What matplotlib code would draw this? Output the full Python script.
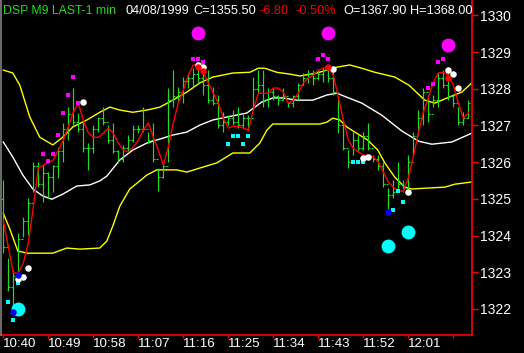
import matplotlib
matplotlib.use("Agg")
import matplotlib.pyplot as plt
import numpy as np

# 1-minute bars, minute index 0 = 10:40
bar_high = [1325.51, 1323.39, 1323.06, 1324.07, 1324.50, 1325.02, 1326.00, 1326.00, 1325.92, 1325.73,
            1325.92, 1326.41, 1327.07, 1327.50, 1328.02, 1327.34, 1327.15, 1326.52, 1327.01, 1327.23,
            1327.50, 1327.01, 1327.07, 1326.33, 1326.47, 1326.74, 1327.01, 1327.01, 1327.50, 1326.82,
            1327.07, 1325.84, 1326.00, 1328.02, 1328.51, 1328.05, 1328.32, 1328.43, 1328.56, 1328.73,
            1328.51, 1328.51, 1328.05, 1327.83, 1327.36, 1327.28, 1327.42, 1327.50, 1327.34, 1327.28,
            1328.32, 1328.51, 1328.51, 1328.02, 1328.02, 1327.83, 1328.02, 1327.64, 1327.83, 1328.16,
            1328.43, 1328.51, 1328.51, 1328.51, 1328.59, 1328.59, 1328.45, 1327.75, 1327.15, 1326.33,
            1326.82, 1326.74, 1326.82, 1327.07, 1326.19, 1326.19, 1326.00, 1325.29, 1325.51, 1326.00,
            1325.51, 1326.19, 1326.82, 1327.42, 1328.02, 1327.83, 1327.83, 1328.43, 1328.51, 1328.43,
            1327.83, 1327.50, 1327.36, 1327.69]
bar_low = [1323.52, 1322.49, 1321.89, 1322.91, 1323.96, 1324.01, 1325.18, 1325.32, 1324.91, 1325.02,
           1325.18, 1325.57, 1326.00, 1326.60, 1327.01, 1326.82, 1326.28, 1325.79, 1326.25, 1326.82,
           1327.01, 1326.52, 1326.25, 1326.00, 1326.00, 1326.28, 1326.55, 1326.79, 1326.82, 1326.52,
           1326.00, 1325.21, 1325.57, 1326.00, 1327.50, 1327.64, 1327.61, 1328.02, 1328.05, 1328.16,
           1327.83, 1327.61, 1327.56, 1326.93, 1326.82, 1327.01, 1327.01, 1326.93, 1326.93, 1326.87,
           1327.50, 1327.88, 1327.50, 1327.50, 1327.69, 1327.56, 1327.69, 1327.50, 1327.50, 1327.69,
           1328.10, 1328.16, 1328.10, 1328.24, 1328.18, 1328.18, 1327.83, 1326.79, 1326.33, 1325.84,
           1326.19, 1326.28, 1326.33, 1326.33, 1326.00, 1325.79, 1325.32, 1324.69, 1325.02, 1325.24,
           1325.18, 1325.18, 1326.14, 1326.74, 1327.01, 1327.09, 1327.50, 1327.50, 1328.02, 1327.69,
           1327.50, 1327.01, 1327.01, 1327.20]
bar_close = [1323.70, 1322.60, 1322.90, 1323.90, 1324.40, 1324.90, 1325.90, 1325.40, 1325.70, 1325.60,
             1325.90, 1326.30, 1326.90, 1327.30, 1327.10, 1326.90, 1326.40, 1326.40, 1326.90, 1327.20,
             1327.10, 1326.60, 1326.30, 1326.10, 1326.40, 1326.60, 1326.90, 1326.90, 1326.90, 1326.60,
             1326.10, 1325.60, 1325.90, 1327.70, 1327.80, 1327.90, 1328.20, 1328.30, 1328.40, 1328.30,
             1328.10, 1327.70, 1327.60, 1327.00, 1327.10, 1327.20, 1327.10, 1327.00, 1327.20, 1327.20,
             1328.00, 1328.10, 1327.70, 1327.90, 1327.80, 1327.70, 1327.80, 1327.60, 1327.80, 1328.10,
             1328.30, 1328.40, 1328.30, 1328.40, 1328.50, 1328.30, 1327.90, 1327.00, 1326.40, 1326.00,
             1326.60, 1326.40, 1326.70, 1326.40, 1326.10, 1325.90, 1325.40, 1325.10, 1325.20, 1325.40,
             1325.30, 1326.00, 1326.70, 1327.20, 1327.90, 1327.30, 1327.70, 1328.30, 1328.10, 1327.80,
             1327.60, 1327.10, 1327.20, 1327.60]
first_open = 1325.00

# red average line, one value per bar
avg_line = [1324.42, 1323.69, 1322.98, 1322.98, 1323.25, 1323.80, 1324.78, 1325.84, 1325.92, 1325.98,
            1326.06, 1326.33, 1326.60, 1326.96, 1327.36, 1327.61, 1327.15, 1326.79, 1326.68, 1326.68,
            1326.79, 1326.93, 1326.79, 1326.52, 1326.33, 1326.28, 1326.41, 1326.60, 1326.87, 1327.07,
            1326.68, 1326.33, 1325.92, 1326.41, 1327.07, 1327.61, 1327.96, 1328.37, 1328.65, 1328.65,
            1328.45, 1328.16, 1327.88, 1327.61, 1327.20, 1326.93, 1326.98, 1326.98, 1326.93, 1326.87,
            1327.42, 1327.88, 1327.88, 1327.88, 1328.02, 1328.02, 1327.91, 1327.61, 1327.69, 1327.88,
            1328.16, 1328.29, 1328.37, 1328.51, 1328.56, 1328.59, 1328.37, 1327.77, 1327.15, 1326.60,
            1326.38, 1326.28, 1326.19, 1326.19, 1326.14, 1326.00, 1325.73, 1325.46, 1325.32, 1325.21,
            1325.21, 1325.57, 1326.14, 1326.79, 1327.36, 1327.75, 1328.18, 1328.43, 1328.45, 1328.37,
            1328.10, 1327.61, 1327.20, 1327.34]

# bands, sampled along the time axis (minutes from 10:40)
upper_t = [0, 1.9, 3.3, 5.3, 7.3, 9.9, 11.9, 13.9, 16.7, 19.3, 21.3, 23.3, 25.9, 28.7, 31.3, 33.9, 36.7,
           39.3, 41.9, 45.9, 49.3, 51.0, 52.3, 54.7, 57.3, 59.3, 62.7, 64.7, 66.7, 69.3, 71.7, 74.3,
           78.3, 81.1, 84.3, 86.3, 89.1, 91.7, 93.7]
upper_v = [1328.51, 1328.43, 1328.10, 1327.23, 1326.68, 1326.47, 1326.68, 1326.96, 1327.15, 1327.36,
           1327.50, 1327.42, 1327.36, 1327.42, 1327.50, 1327.69, 1327.91, 1328.16, 1328.32, 1328.43,
           1328.45, 1328.56, 1328.56, 1328.45, 1328.40, 1328.35, 1328.43, 1328.51, 1328.59, 1328.65,
           1328.56, 1328.45, 1328.32, 1328.10, 1327.69, 1327.61, 1327.77, 1327.91, 1328.16]
lower_t = [0, 1.3, 2.9, 4.7, 7.3, 9.9, 12.7, 15.3, 19.3, 20.7, 21.9, 23.3, 25.3, 27.3, 28.7, 30.7, 34.7,
           36.7, 39.3, 42.7, 45.9, 49.3, 51.3, 52.7, 53.9, 58.7, 63.3, 64.7, 65.9, 67.3, 68.7, 70.3,
           72.9, 74.9, 76.3, 78.3, 80.3, 81.7, 84.3, 88.3, 90.3, 93.7]
lower_v = [1324.61, 1324.18, 1323.58, 1323.52, 1323.52, 1323.52, 1323.66, 1323.63, 1323.66, 1323.85,
           1324.26, 1324.80, 1325.27, 1325.49, 1325.65, 1325.79, 1325.79, 1325.73, 1325.84, 1325.98,
           1326.25, 1326.25, 1326.52, 1326.87, 1327.04, 1327.04, 1327.04, 1327.09, 1327.20, 1327.15,
           1326.96, 1326.82, 1326.60, 1326.33, 1325.98, 1325.59, 1325.32, 1325.27, 1325.29, 1325.32,
           1325.40, 1325.46]
mid_t = [0, 1.9, 3.9, 5.9, 7.9, 9.7, 11.9, 14.7, 17.3, 19.3, 20.7, 23.3, 25.9, 28.7, 31.3, 33.9, 36.7,
         39.3, 41.9, 44.7, 48.7, 50.3, 51.7, 53.9, 55.9, 58.7, 61.9, 64.7, 66.7, 68.7, 71.7, 75.7,
         79.7, 83.1, 85.7, 89.7, 93.7]
mid_v = [1326.55, 1326.14, 1325.65, 1325.27, 1325.08, 1324.99, 1325.13, 1325.35, 1325.38, 1325.49,
         1325.62, 1326.06, 1326.33, 1326.52, 1326.63, 1326.74, 1326.82, 1327.01, 1327.15, 1327.23,
         1327.34, 1327.50, 1327.64, 1327.75, 1327.75, 1327.69, 1327.69, 1327.83, 1327.88, 1327.77,
         1327.61, 1327.28, 1326.85, 1326.57, 1326.49, 1326.55, 1326.79]

# indicator markers: (bar index, price)
magenta_sq_i = [8, 9, 10, 11, 12, 13, 14, 15, 38, 39, 40, 63, 64, 65, 85, 86, 87, 88, 89]
magenta_sq_p = [1326.22, 1326.03, 1326.22, 1326.74, 1327.34, 1327.83, 1328.32, 1327.61, 1328.81, 1328.81,
                1328.73, 1328.81, 1328.92, 1328.81, 1328.02, 1328.13, 1328.73, 1328.81, 1328.51]
cyan_sq_i = [1, 2, 3, 45, 46, 47, 48, 49, 70, 71, 72, 78, 79, 80]
cyan_sq_p = [1322.19, 1321.70, 1322.71, 1326.49, 1326.71, 1326.71, 1326.49, 1326.71, 1326.00, 1326.00,
             1326.00, 1324.69, 1325.21, 1324.91]
big_magenta_i = [39, 65, 89]
big_magenta_p = [1329.52, 1329.52, 1329.19]
big_cyan_i = [3, 77, 81]
big_cyan_p = [1321.99, 1323.71, 1324.10]
white_dot_i = [3, 4, 5, 16, 39, 40, 66, 72, 73, 81, 89, 90, 91]
white_dot_p = [1322.81, 1322.87, 1323.11, 1327.64, 1328.65, 1328.59, 1328.54, 1326.11, 1326.14, 1325.18,
               1328.51, 1328.40, 1328.02]
red_dot_i = [39, 40, 65, 89]
red_dot_p = [1328.59, 1328.48, 1328.59, 1328.29]
blue_dot_i = [2, 3, 77]
blue_dot_p = [1321.92, 1322.92, 1324.64]

tick_pos = [0, 9, 18, 27, 36, 45, 54, 63, 72, 81, 90]
tick_lbl = ["10:40", "10:49", "10:58", "11:07", "11:16", "11:25", "11:34", "11:43", "11:52", "12:01", ""]
price_ticks = [1322, 1323, 1324, 1325, 1326, 1327, 1328, 1329, 1330]

plt.rcParams['font.family'] = ['Liberation Sans', 'DejaVu Sans']

fig = plt.figure(figsize=(5.24, 3.53), dpi=100, facecolor='black')
ax = fig.add_axes([0.0, 0.051, 0.9008, 0.949], facecolor='black')

green = '#1ee01e'
n = len(bar_high)
idx = np.arange(n)
opens = [first_open] + bar_close[:-1]

ax.plot(upper_t, upper_v, color='#ffff00', lw=1)
ax.plot(lower_t, lower_v, color='#ffff00', lw=1)
ax.plot(mid_t, mid_v, color='white', lw=1)

ax.vlines(idx, bar_low, bar_high, color=green, lw=0.85)
ax.hlines(opens, idx - 0.4, idx, color=green, lw=0.85)
ax.hlines(bar_close, idx, idx + 0.4, color=green, lw=0.85)

ax.plot(idx, avg_line, color='#ff0000', lw=1.0)

ax.scatter(magenta_sq_i, magenta_sq_p, marker='s', s=10, color='#ff00ff', zorder=4, linewidths=0)
ax.scatter(cyan_sq_i, cyan_sq_p, marker='s', s=10, color='#00ffff', zorder=4, linewidths=0)
ax.scatter(big_magenta_i, big_magenta_p, s=100, color='#ff00ff', zorder=4, linewidths=0)
ax.scatter(big_cyan_i, big_cyan_p, s=100, color='#00ffff', zorder=4, linewidths=0)
ax.scatter(white_dot_i, white_dot_p, s=22, color='white', zorder=5, linewidths=0)
ax.scatter(red_dot_i, red_dot_p, s=22, color='#ff0000', zorder=6, linewidths=0)
ax.scatter(blue_dot_i, blue_dot_p, s=22, color='#0000ff', zorder=6, linewidths=0)

ax.set_xlim(-0.66, 93.74)
ax.set_ylim(1321.29, 1330.42)

for side in ['top', 'left']:
    ax.spines[side].set_visible(False)
ax.spines['right'].set_color('#ff0000')
ax.spines['bottom'].set_color('#ff0000')
ax.spines['right'].set_linewidth(1.2)
ax.spines['bottom'].set_linewidth(1.2)

ax.yaxis.tick_right()
ax.set_yticks(price_ticks)
ax.set_yticklabels([str(p) for p in price_ticks])
ax.tick_params(axis='y', colors='#ff0000', length=4, width=1, labelcolor='white', labelsize=10, pad=1.5)
ax.set_xticks(tick_pos)
ax.set_xticklabels(tick_lbl, ha='left')
ax.tick_params(axis='x', colors='#ff0000', length=2, width=1, labelcolor='white', labelsize=9.6, pad=0.5)

fig.add_artist(plt.Line2D([0.001, 0.001], [0.051, 1.0], color='#808080', lw=1.2))

hy = 1 - 10.5 / 353
fig.text(3 / 524, hy, "DSP M9 LAST-1 min", color='#1ee01e', fontsize=8.8, va='center')
fig.text(125 / 524, hy, "04/08/1999", color='white', fontsize=9.2, va='center')
fig.text(193 / 524, hy, "C=1355.50", color='white', fontsize=9.2, va='center')
fig.text(259 / 524, hy, "-6.80", color='#ff0000', fontsize=9.2, va='center')
fig.text(295 / 524, hy, "-0.50%", color='#ff0000', fontsize=9.2, va='center')
fig.text(343 / 524, hy, "O=1367.90", color='white', fontsize=9.2, va='center')
fig.text(410 / 524, hy, "H=1368.00", color='white', fontsize=9.2, va='center')

fig.savefig("out.png", dpi=100, facecolor='black')
